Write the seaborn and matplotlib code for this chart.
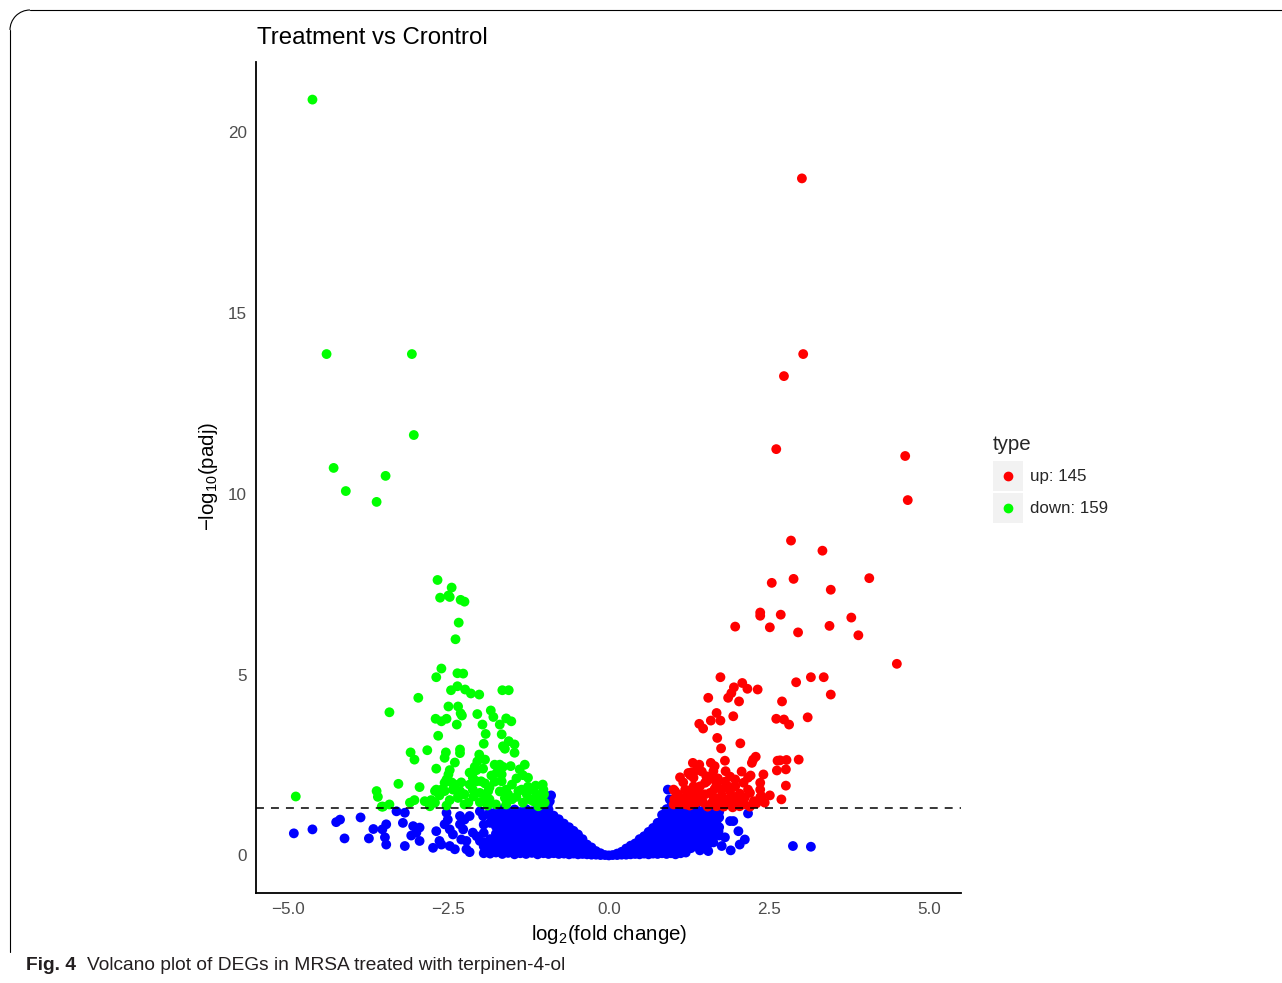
import numpy as np
import pandas as pd
import matplotlib
matplotlib.use("Agg")
import matplotlib.pyplot as plt
import seaborn as sns
from matplotlib.lines import Line2D
from matplotlib.patches import Arc, Rectangle
from matplotlib.transforms import Affine2D

# ---- data: log2(fold change) and -log10(padj) ----
up_x = [3.01, 3.03, 2.73, 2.61, 4.62, 4.66, 4.49, 2.84, 3.33, 2.54,
        2.88, 3.46, 4.06, 2.36, 2.36, 2.68, 1.97, 2.51, 2.95, 3.44,
        3.78, 3.89, 2.92, 3.15, 3.35, 3.46, 2.70, 2.73, 2.81, 3.10,
        2.67, 2.77, 2.96, 2.76, 2.62, 2.76, 2.69, 1.74, 2.08, 2.16,
        2.32, 1.95, 1.91, 1.86, 1.55, 2.03, 1.94, 1.68, 1.59, 1.74,
        1.41, 1.47, 2.61, 1.69, 1.75, 2.05, 1.31, 1.41, 1.37, 1.29,
        1.59, 1.65, 1.63, 1.81, 1.82, 2.25, 2.23, 2.63, 2.29, 1.11,
        1.16, 1.27, 1.32, 1.52, 1.50, 1.32, 1.29, 1.53, 1.58, 2.21,
        2.17, 2.10, 2.41, 2.36, 1.68, 1.65, 1.86, 1.89, 1.97, 1.76,
        1.58, 2.04, 2.20, 2.36, 2.26, 2.30, 1.24, 1.16, 1.03, 1.32,
        1.42, 1.63, 1.73, 1.91, 2.02, 1.03, 1.11, 1.36, 1.47, 1.84,
        1.68, 2.04, 1.01, 1.24, 1.06, 1.21, 1.26, 2.38, 2.12, 1.19,
        1.39, 1.50, 1.61, 1.76, 1.93, 2.12, 2.17, 1.97, 1.81, 1.42,
        1.70, 2.07, 1.89, 1.45, 1.20, 1.54, 1.79, 1.93, 2.20, 2.43,
        1.02, 1.01, 1.08, 2.36, 2.51]
up_y = [18.73, 13.87, 13.26, 11.24, 11.05, 9.83, 5.30, 8.71, 8.43, 7.54,
        7.65, 7.35, 7.67, 6.72, 6.63, 6.66, 6.33, 6.31, 6.17, 6.35,
        6.58, 6.09, 4.79, 4.93, 4.93, 4.45, 4.26, 3.76, 3.62, 3.82,
        2.63, 2.64, 2.65, 2.38, 2.35, 1.93, 1.55, 4.93, 4.77, 4.61,
        4.59, 4.65, 4.49, 4.36, 4.36, 4.26, 3.85, 3.94, 3.73, 3.73,
        3.64, 3.51, 3.78, 3.25, 2.96, 3.10, 2.56, 2.51, 2.36, 2.30,
        2.56, 2.47, 2.33, 2.62, 2.33, 2.65, 2.56, 2.62, 2.73, 2.16,
        2.02, 2.22, 2.15, 2.19, 2.01, 1.91, 1.82, 2.05, 2.12, 2.21,
        2.15, 2.01, 2.24, 2.01, 1.96, 1.84, 1.91, 1.78, 1.91, 1.82,
        1.73, 1.71, 1.73, 1.61, 1.50, 1.44, 1.64, 1.57, 1.78, 1.59,
        1.55, 1.62, 1.50, 1.46, 1.50, 1.46, 1.44, 1.46, 1.47, 1.55,
        1.36, 1.36, 1.82, 2.28, 1.50, 1.55, 1.38, 1.64, 1.41, 1.82,
        1.77, 1.69, 1.46, 1.66, 1.63, 1.60, 1.82, 2.10, 2.04, 1.91,
        2.13, 2.32, 2.18, 2.32, 1.41, 1.35, 1.35, 1.33, 1.35, 1.46,
        1.55, 1.41, 1.69, 1.82, 1.66]

down_x = [-4.62, -4.40, -3.07, -3.04, -4.29, -3.48, -4.10, -3.62, -4.88, -3.54,
          -1.00, -1.01,
          -2.67, -2.45, -2.63, -2.50, -2.48, -2.31, -2.25, -2.34, -2.39, -2.61,
          -2.69, -2.36, -2.27, -2.46, -2.36, -2.24, -2.15, -2.02, -1.66, -1.56,
          -2.97, -2.50, -2.35,
          -3.42, -2.31, -2.29, -2.05, -1.84, -1.80, -1.60, -1.52, -2.70, -2.61,
          -2.53,
          -2.37, -1.97, -1.70, -2.66, -1.92, -1.67, -1.95, -1.56, -1.62, -1.65,
          -1.47, -1.47, -3.09, -3.03, -2.83, -2.54, -2.56, -2.32, -2.32, -2.02,
          -2.05, -2.69, -2.48, -2.50, -2.09, -2.06, -1.96, -1.70, -1.65, -1.53,
          -1.31, -1.75, -1.67, -1.83, -1.34, -1.44, -2.53, -2.56, -2.45, -2.30,
          -2.12, -2.06, -1.99, -1.93, -1.67, -3.28, -2.95, -2.69, -2.71, -2.61,
          -2.56, -2.43, -2.32, -2.35, -2.12, -2.01, -1.88, -1.93, -1.60, -1.57,
          -1.41, -1.36, -1.26, -1.14, -1.03, -1.02, -1.13, -1.10, -3.62, -3.60,
          -3.03, -2.87, -2.77, -2.71, -2.48, -2.35, -2.19, -2.01, -1.86, -1.62,
          -1.60, -1.44, -1.34, -1.18, -3.52, -3.42, -2.79, -1.10, -1.05,
          -2.25, -2.17, -1.86, -1.78, -1.51, -1.28, -1.23, -2.25, -1.76, -1.70,
          -2.40, -2.64, -1.26, -1.78, -1.93, -2.17, -2.40, -1.39, -1.51, -2.53,
          -2.11, -1.23, -3.10, -1.89]
down_y = [20.91, 13.87, 13.87, 11.63, 10.72, 10.50, 10.08, 9.78, 1.63, 1.35,
          1.46, 1.69,
          7.62, 7.41, 7.13, 7.19, 7.15, 7.07, 7.02, 6.44, 5.98, 5.17,
          4.93, 5.04, 5.03, 4.57, 4.68, 4.59, 4.48, 4.45, 4.57, 4.57,
          4.36, 4.12, 4.12,
          3.96, 3.93, 3.87, 3.91, 4.01, 3.83, 3.79, 3.71, 3.78, 3.71,
          3.78,
          3.62, 3.62, 3.62, 3.31, 3.36, 3.35, 3.09, 3.16, 2.95, 3.02,
          3.07, 2.84, 2.85, 2.65, 2.91, 2.85, 2.70, 2.93, 2.83, 2.79,
          2.60, 2.40, 2.36, 2.24, 2.45, 2.36, 2.40, 2.51, 2.45, 2.47,
          2.51, 2.28, 2.24, 2.21, 2.22, 2.13, 2.10, 2.01, 2.02, 2.02,
          2.15, 2.05, 2.05, 1.99, 2.05, 1.98, 1.89, 1.82, 1.78, 1.82,
          1.78, 1.82, 1.78, 1.64, 1.82, 1.73, 1.78, 1.59, 1.82, 1.69,
          1.78, 1.82, 1.90, 1.93, 1.96, 1.82, 1.69, 1.55, 1.78, 1.62,
          1.53, 1.50, 1.53, 1.46, 1.53, 1.59, 1.46, 1.47, 1.55, 1.59,
          1.41, 1.62, 1.46, 1.50, 1.35, 1.41, 1.36, 1.36, 1.59,
          1.69, 1.96, 1.88, 2.04, 1.96, 1.69, 1.55, 1.41, 1.41, 1.77,
          1.96, 1.66, 2.15, 2.51, 2.65, 2.29, 2.57, 2.38, 1.55, 1.38,
          1.63, 1.82, 1.46, 1.38]

# non-significant genes away from the centre
ns_x = [-4.91, -4.62, -4.25, -4.19, -4.12, -3.87, -3.74, -3.67, -3.53, -3.47,
        -3.49, -3.47, -3.31, -3.18, -3.21, -3.18, -3.05, -2.95, -3.08, -3.00,
        -2.95, -2.74, -2.69, -2.64, -2.61, -2.53, -2.51, -2.56, -2.48, -2.43,
        -2.48, -2.40, -2.32, -2.25, -2.17, -2.32, -2.27, -2.30, -2.22, -2.12,
        -2.06, -2.22, -2.17, -2.01, -1.96, -1.86, -2.01, -1.93, -1.88,
        1.89, 1.94, 2.17, 2.02, 2.12, 2.04, 1.50, 1.55, 1.76, 1.90,
        1.71, 1.68, 2.87, 3.15, 1.81, 1.61, 1.42,
        -0.90, -0.92, -0.95, 0.92, 0.95, 0.98]
ns_y = [0.61, 0.72, 0.92, 0.99, 0.47, 1.05, 0.47, 0.73, 0.72, 0.86,
        0.50, 0.30, 1.22, 1.18, 0.90, 0.26, 0.81, 0.77, 0.55, 0.63,
        0.40, 0.21, 0.67, 0.40, 0.30, 1.18, 0.99, 0.86, 0.72, 0.58,
        0.26, 0.17, 1.09, 0.99, 1.09, 0.86, 0.72, 0.44, 0.40, 0.63,
        0.53, 0.17, 0.09, 1.22, 1.09, 1.18, 0.40, 0.35, 0.17,
        0.95, 0.95, 1.16, 0.67, 0.44, 0.30, 0.21, 0.12, 0.26, 0.14,
        0.67, 0.95, 0.26, 0.24, 0.50, 0.39, 0.14,
        1.66, 1.50, 1.40, 1.82, 1.55, 1.40]

# dense non-significant core, -log10(padj) values listed per log2FC column
ns_core_left = {
    -1.95: [0.06, 0.25, 0.62, 0.85],
    -1.85: [0.05, 0.28, 0.45, 0.90, 1.12],
    -1.76: [0.08, 0.22, 0.41, 0.60, 0.80, 0.98, 1.20],
    -1.66: [0.04, 0.19, 0.37, 0.55, 0.76, 0.95, 1.15, 1.28],
    -1.57: [0.07, 0.26, 0.45, 0.63, 0.82, 1.02, 1.22],
    -1.47: [0.03, 0.20, 0.38, 0.57, 0.75, 0.94, 1.12, 1.27],
    -1.38: [0.06, 0.25, 0.44, 0.62, 0.81, 1.00, 1.20],
    -1.29: [0.04, 0.18, 0.36, 0.55, 0.73, 0.92, 1.10, 1.28],
    -1.20: [0.07, 0.26, 0.45, 0.64, 0.83, 1.03, 1.22],
    -1.11: [0.03, 0.20, 0.38, 0.57, 0.76, 0.95, 1.14, 1.29],
    -1.02: [0.06, 0.25, 0.43, 0.62, 0.81, 1.00, 1.20],
    -0.94: [0.04, 0.19, 0.37, 0.56, 0.74, 0.93, 1.12, 1.27],
    -0.86: [0.06, 0.24, 0.43, 0.62, 0.80, 0.98, 1.10],
    -0.78: [0.04, 0.20, 0.38, 0.57, 0.75, 0.93, 1.00],
    -0.70: [0.05, 0.22, 0.40, 0.58, 0.75, 0.88],
    -0.62: [0.03, 0.19, 0.36, 0.53, 0.68, 0.78],
    -0.55: [0.05, 0.22, 0.40, 0.56, 0.68],
    -0.48: [0.03, 0.18, 0.34, 0.48, 0.58],
    -0.41: [0.04, 0.19, 0.33, 0.45],
    -0.34: [0.03, 0.16, 0.30],
    -0.27: [0.02, 0.12, 0.22],
    -0.20: [0.02, 0.12],
    -0.13: [0.01, 0.06],
    -0.06: [0.01],
    0.00: [0.00],
}
ns_core_right = {
    0.06: [0.01],
    0.13: [0.01, 0.05],
    0.20: [0.02, 0.10],
    0.27: [0.02, 0.11, 0.19],
    0.34: [0.03, 0.15, 0.27],
    0.41: [0.04, 0.18, 0.33],
    0.48: [0.03, 0.18, 0.33, 0.45],
    0.55: [0.05, 0.21, 0.37, 0.53],
    0.62: [0.03, 0.19, 0.36, 0.52, 0.65],
    0.69: [0.05, 0.22, 0.40, 0.58, 0.76],
    0.76: [0.04, 0.20, 0.38, 0.56, 0.74, 0.90],
    0.83: [0.06, 0.24, 0.42, 0.60, 0.79, 0.97, 1.12],
    0.90: [0.04, 0.20, 0.38, 0.57, 0.76, 0.95, 1.14, 1.28],
    0.97: [0.06, 0.25, 0.43, 0.62, 0.81, 1.00, 1.20],
    1.04: [0.03, 0.20, 0.38, 0.57, 0.75, 0.94, 1.13, 1.28],
    1.12: [0.06, 0.25, 0.44, 0.63, 0.82, 1.01, 1.20],
    1.20: [0.08, 0.22, 0.37, 0.56, 0.75, 0.93, 1.12, 1.27],
    1.28: [0.20, 0.40, 0.59, 0.78, 0.97, 1.16, 1.30],
    1.36: [0.28, 0.45, 0.62, 0.80, 0.98, 1.15, 1.28],
    1.45: [0.30, 0.48, 0.66, 0.84, 1.03, 1.22],
    1.54: [0.30, 0.47, 0.66, 0.85, 1.05, 1.24],
    1.63: [0.36, 0.54, 0.72, 0.90, 1.10, 1.25],
    1.72: [0.55, 0.78, 1.05, 1.20],
}

type_labels = ["normal", "up", "down"]
type_colors = {"normal": "#0000FF", "up": "#FF0000", "down": "#00FF00"}
padj_cutoff = 0.05

# ---- assemble one table ----
core_x, core_y = [], []
for core in (ns_core_left, ns_core_right):
    for fc, vals in core.items():
        core_x += [fc] * len(vals)
        core_y += vals

df = pd.concat([
    pd.DataFrame({"log2fc": ns_x + core_x, "nlp": ns_y + core_y, "type": "normal"}),
    pd.DataFrame({"log2fc": down_x, "nlp": down_y, "type": "down"}),
    pd.DataFrame({"log2fc": up_x, "nlp": up_y, "type": "up"}),
], ignore_index=True)

# ---- style ----
sns.set_style("white")
plt.rcParams["font.family"] = ["Liberation Sans", "DejaVu Sans"]
plt.rcParams["mathtext.fontset"] = "custom"
plt.rcParams["mathtext.rm"] = "Liberation Sans"
plt.rcParams["mathtext.it"] = "Liberation Sans:italic"
plt.rcParams["mathtext.default"] = "regular"

W, H = 1282, 983
fig = plt.figure(figsize=(W / 100, H / 100), dpi=100)
ax = fig.add_axes([256 / W, 1 - 893 / H, (961 - 256) / W, (893 - 62) / H])

sns.scatterplot(data=df, x="log2fc", y="nlp", hue="type", hue_order=type_labels,
                palette=type_colors, s=50, linewidth=0, edgecolor="none",
                legend=False, ax=ax, zorder=2)

ax.axhline(-np.log10(padj_cutoff), color="black", lw=1.1,
           ls=(0, (5.2, 4.6)), zorder=3)

ax.set_xlim(-5.50, 5.49)
ax.set_ylim(-1.04, 21.95)
ax.set_xticks([-5.0, -2.5, 0.0, 2.5, 5.0])
ax.set_xticklabels(["\u22125.0", "\u22122.5", "0.0", "2.5", "5.0"])
ax.set_yticks([0, 5, 10, 15, 20])
ax.set_yticklabels(["0", "5", "10", "15", "20"])
ax.set_xlabel("")
ax.set_ylabel("")
for side in ("top", "right"):
    ax.spines[side].set_visible(False)
for side in ("left", "bottom"):
    ax.spines[side].set_color("black")
    ax.spines[side].set_linewidth(1.3)
ax.tick_params(axis="both", length=3.6, width=1.0, color="#333333",
               labelcolor="#4D4D4D", labelsize=12.3, pad=3)
ax.grid(False)

# ---- titles ----
fig.text(257 / W, 1 - 38 / H, "Treatment vs Crontrol", fontsize=17.3,
         ha="left", va="center", color="black")
fig.text(609 / W, 1 - 934 / H, "log$_2$(fold change)", fontsize=14.8,
         ha="center", va="center", color="black")
fig.text(209 / W, 1 - 476 / H, "\u2212log$_{10}$(padj)", fontsize=14.8,
         ha="center", va="center", rotation=90, color="black")


# ---- legend: grey key box with a centred dot ----
class KeyHandler:
    def __init__(self, color, bg="#F2F2F2"):
        self.color = color
        self.bg = bg

    def legend_artist(self, legend, orig_handle, fontsize, handlebox):
        x0, y0 = -handlebox.xdescent, -handlebox.ydescent
        w, h = handlebox.width, handlebox.height
        box = Rectangle((x0, y0), w, h, facecolor=self.bg, edgecolor="none",
                        transform=handlebox.get_transform())
        dot = Line2D([x0 + w / 2], [y0 + h / 2], marker="o", markersize=6,
                     color=self.color, linestyle="none",
                     transform=handlebox.get_transform())
        handlebox.add_artist(box)
        handlebox.add_artist(dot)
        return box


n_up, n_down = len(up_x), len(down_x)
key_up, key_down = object(), object()
leg = fig.legend([key_up, key_down], [f"up: {n_up}", f"down: {n_down}"],
                 handler_map={key_up: KeyHandler(type_colors["up"]),
                              key_down: KeyHandler(type_colors["down"])},
                 loc="upper left", bbox_to_anchor=(993 / W, 1 - 435 / H),
                 frameon=False, fontsize=12.2, title="type", title_fontsize=14.8,
                 handlelength=1.75, handleheight=2.35, labelspacing=0.12,
                 handletextpad=0.45, borderpad=0, borderaxespad=0,
                 alignment="left")
leg._legend_box.sep = 5

# ---- caption ----
fig.text(26 / W, 1 - 966 / H, "Fig. 4", fontsize=13.8, fontweight="bold",
         ha="left", va="center", color="#231F20")
fig.text(87 / W, 1 - 966 / H, "Volcano plot of DEGs in MRSA treated with terpinen-4-ol",
         fontsize=13.8, ha="left", va="center", color="#231F20")

# ---- page frame with rounded corner ----
px = Affine2D().scale(1 / W, -1 / H).translate(0, 1) + fig.transFigure
r = 20
fig.add_artist(Line2D([10 + r, W], [10, 10], color="black", lw=0.8, transform=px))
fig.add_artist(Line2D([10, 10], [10 + r, 952], color="black", lw=0.8, transform=px))
fig.add_artist(Arc((10 + r, 10 + r), 2 * r, 2 * r, theta1=180, theta2=270,
                   color="black", lw=0.8, transform=px))

fig.savefig("out.png", dpi=100)
